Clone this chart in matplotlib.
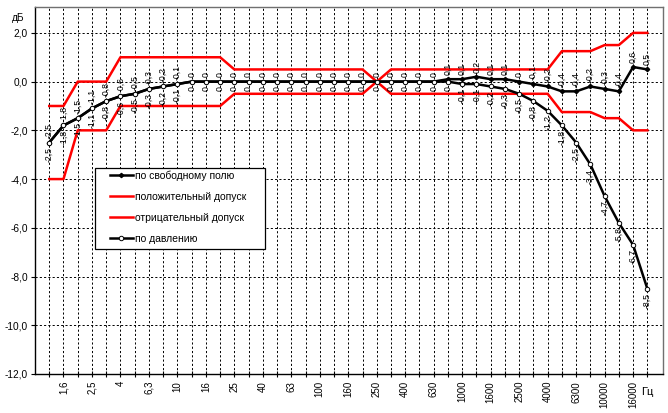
import matplotlib
matplotlib.use("Agg")
import matplotlib.pyplot as plt
from matplotlib.patches import Rectangle

plt.rcParams["font.family"] = ["Liberation Sans", "DejaVu Sans"]

# 1/3-octave bands, Hz
freqs = ["1,25", "1,6", "2", "2,5", "3,15", "4", "5", "6,3", "8", "10",
         "12,5", "16", "20", "25", "31,5", "40", "50", "63", "80", "100",
         "125", "160", "200", "250", "315", "400", "500", "630", "800", "1000",
         "1250", "1600", "2000", "2500", "3150", "4000", "5000", "6300", "8000", "10000",
         "12500", "16000", "20000"]

free_field = [-2.5, -1.8, -1.5, -1.1, -0.8, -0.6, -0.5, -0.3, -0.2, -0.1,
              0, 0, 0, 0, 0, 0, 0, 0, 0, 0,
              0, 0, 0, 0, 0, 0, 0, 0, 0.1, 0.1,
              0.2, 0.1, 0.1, 0, -0.1, -0.2, -0.4, -0.4, -0.2, -0.3,
              -0.4, 0.6, 0.5]

pressure = [-2.5, -1.8, -1.5, -1.1, -0.8, -0.6, -0.5, -0.3, -0.2, -0.1,
            0, 0, 0, 0, 0, 0, 0, 0, 0, 0,
            0, 0, 0, 0, 0, 0, 0, 0, 0, -0.1,
            -0.1, -0.2, -0.3, -0.5, -0.8, -1.2, -1.8, -2.5, -3.4, -4.7,
            -5.8, -6.7, -8.5]

tol_pos = [-1, -1, 0, 0, 0, 1, 1, 1, 1, 1,
           1, 1, 1, 0.5, 0.5, 0.5, 0.5, 0.5, 0.5, 0.5,
           0.5, 0.5, 0.5, 0, 0.5, 0.5, 0.5, 0.5, 0.5, 0.5,
           0.5, 0.5, 0.5, 0.5, 0.5, 0.5, 1.25, 1.25, 1.25, 1.5,
           1.5, 2, 2]

tol_neg = [-4, -4, -2, -2, -2, -1, -1, -1, -1, -1,
           -1, -1, -1, -0.5, -0.5, -0.5, -0.5, -0.5, -0.5, -0.5,
           -0.5, -0.5, -0.5, 0, -0.5, -0.5, -0.5, -0.5, -0.5, -0.5,
           -0.5, -0.5, -0.5, -0.5, -0.5, -0.5, -1.25, -1.25, -1.25, -1.5,
           -1.5, -2, -2]

yticks = [2, 0, -2, -4, -6, -8, -10, -12]


def fmt(v):
    return f"{v:g}".replace(".", ",")


x = list(range(len(freqs)))

fig = plt.figure(figsize=(6.68, 4.13), dpi=100)
ax = fig.add_axes([35 / 668, 1 - 374 / 413, 628 / 668, 366.7 / 413])

# dashed grid, one vertical line per band
grid_style = dict(color="black", linewidth=0.7, linestyle=(0, (2.2, 2.2)), zorder=0)
for xi in x:
    ax.axvline(xi, **grid_style)
for yv in yticks[:-1]:
    ax.axhline(yv, **grid_style)

ax.plot(x, free_field, color="black", linewidth=1.8, marker="D", markersize=2.2,
        label="по свободному полю", zorder=4)
ax.plot(x, tol_pos, color="#ff0000", linewidth=1.8, label="положительный допуск", zorder=3)
ax.plot(x, tol_neg, color="#ff0000", linewidth=1.8, label="отрицательный допуск", zorder=3)
ax.plot(x, pressure, color="black", linewidth=1.8, marker="o", markersize=3.2,
        markerfacecolor="white", markeredgecolor="black", markeredgewidth=0.7,
        label="по давлению", zorder=5)

for xi, v in zip(x, free_field):
    ax.annotate(fmt(v), (xi, v), xytext=(0, 3), textcoords="offset points",
                rotation=90, ha="center", va="bottom", fontsize=6.3, zorder=6)
for xi, v in zip(x, pressure):
    ax.annotate(fmt(v), (xi, v), xytext=(0, -3), textcoords="offset points",
                rotation=90, ha="center", va="top", fontsize=6.3, zorder=6)

ax.set_xlim(-1, 43.1)
ax.set_ylim(-12, 3.05)
ax.set_yticks(yticks)
ax.set_yticklabels([f"{v:.1f}".replace(".", ",") for v in yticks], fontsize=7.3)
ax.set_xticks(x)
ax.set_xticklabels([f if i % 2 == 1 else "" for i, f in enumerate(freqs)],
                   rotation=90, fontsize=7)
ax.tick_params(axis="x", direction="inout", length=4, width=0.8, pad=3)
ax.tick_params(axis="y", direction="out", length=3, width=0.8, pad=2)
ax.text(42, -12.55, "Гц", ha="center", va="top", fontsize=8)
ax.text(-2.2, 2.6, "дБ", ha="center", va="center", fontsize=7.3)

for side in ["left", "bottom"]:
    ax.spines[side].set_linewidth(1.0)
for side in ["top", "right"]:
    ax.spines[side].set_color("#707070")
    ax.spines[side].set_linewidth(1.0)

ax.add_patch(Rectangle((0.0955, 0.341), 0.27, 0.221, transform=ax.transAxes,
                       facecolor="white", edgecolor="black", linewidth=0.9, zorder=7))
leg = ax.legend(loc="upper left", bbox_to_anchor=(0.115, 0.562), frameon=False,
                fontsize=7.5, handlelength=2.2, handletextpad=0.2,
                labelspacing=1.05, borderpad=0.25, borderaxespad=0)
leg.set_zorder(8)

fig.savefig("out.png", dpi=100)
